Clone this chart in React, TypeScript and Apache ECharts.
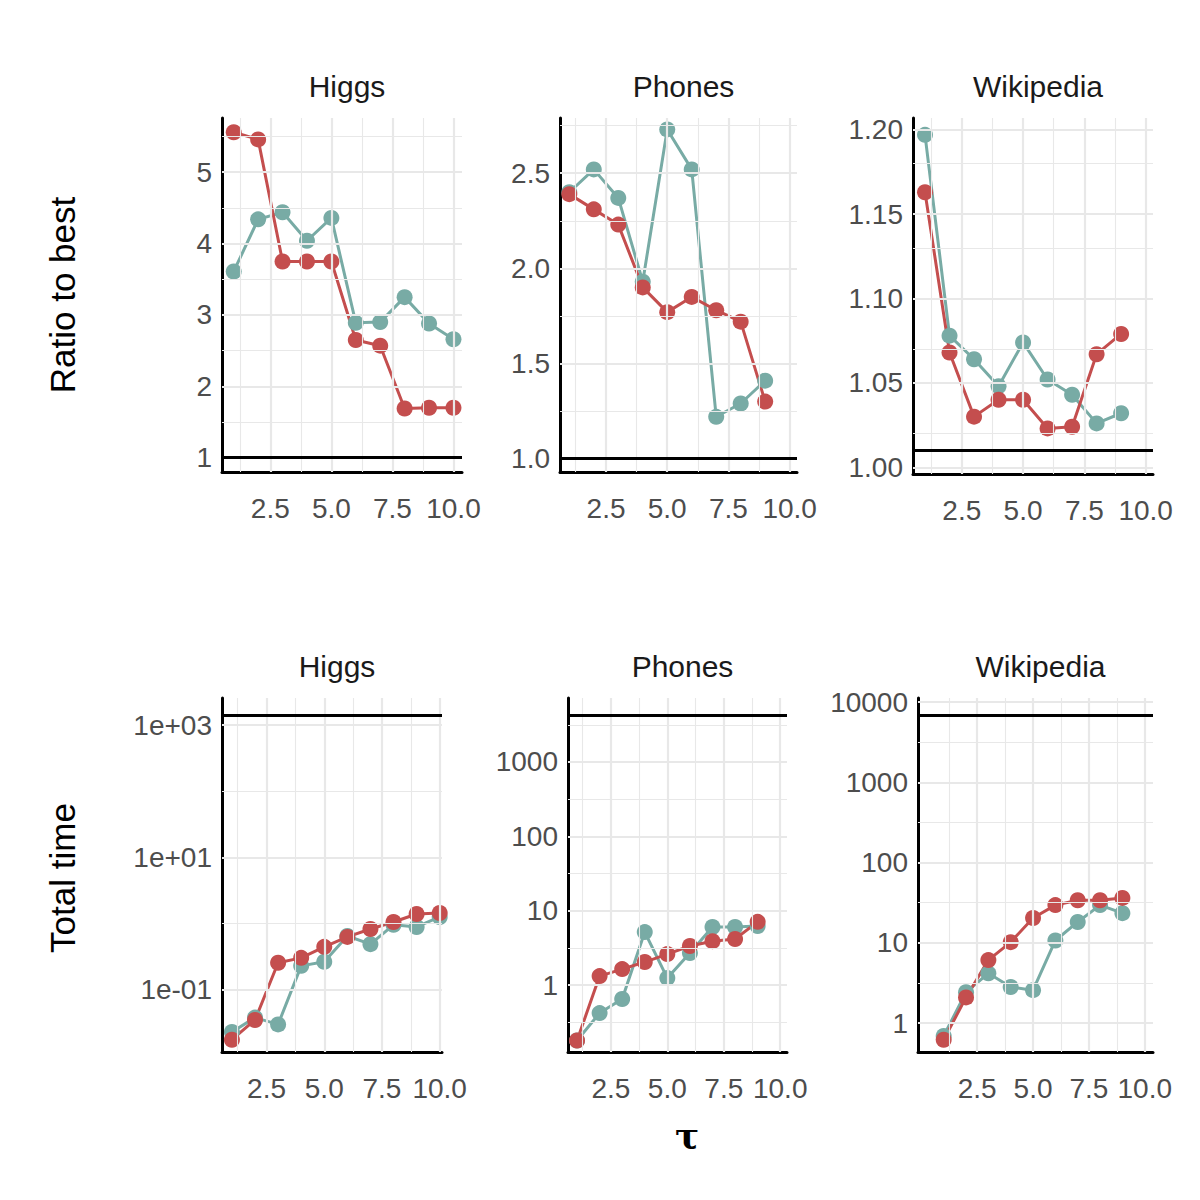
import { useEffect, useRef } from "react";
import * as echarts from "echarts";

const RED = "#c44e4e";
const TEAL = "#78aba5";
const GRID = "#e8e8e8";

const panelNames = ["Higgs", "Phones", "Wikipedia"];

// top row: ratio to best
const higgsRatioRed = [5.56, 5.46, 3.75, 3.75, 3.75, 2.65, 2.57, 1.69, 1.70, 1.70];
const higgsRatioTeal = [3.61, 4.34, 4.44, 4.04, 4.36, 2.89, 2.90, 3.25, 2.88, 2.66];
const phonesRatioRed = [2.39, 2.31, 2.23, 1.90, 1.77, 1.85, 1.78, 1.72, 1.30];
const phonesRatioTeal = [2.40, 2.52, 2.37, 1.93, 2.73, 2.52, 1.22, 1.29, 1.41];
const wikiRatioRed = [1.163, 1.068, 1.030, 1.040, 1.040, 1.023, 1.024, 1.067, 1.079];
const wikiRatioTeal = [1.197, 1.078, 1.064, 1.048, 1.074, 1.052, 1.043, 1.026, 1.032];

// bottom row: total time
const higgsTimeRed = [0.0176, 0.035, 0.256, 0.304, 0.446, 0.63, 0.83, 1.06, 1.4, 1.45];
const higgsTimeTeal = [0.023, 0.038, 0.03, 0.23, 0.265, 0.65, 0.49, 0.96, 0.89, 1.26];
const phonesTimeRed = [0.18, 1.32, 1.64, 2.04, 2.61, 3.35, 3.89, 4.17, 7.08];
const phonesTimeTeal = [0.18, 0.42, 0.65, 5.16, 1.24, 2.69, 6.03, 6.03, 6.22];
const wikiTimeRed = [0.62, 2.09, 6.1, 10.2, 20.4, 29.5, 33.9, 33.9, 36.3];
const wikiTimeTeal = [0.69, 2.43, 4.17, 2.82, 2.57, 10.7, 18.2, 29.5, 23.4];

const refLines = [1, 1, 1.006, 1400, 4300, 6900];

const xTicks = [2.5, 5, 7.5, 10];
const xMinor = [1.25, 3.75, 6.25, 8.75];

const xIdx = (n: number) => Array.from({ length: n }, (_, i) => i + 1);

interface Panel {
  grid: { left: number; top: number; width: number; height: number };
  xMin: number;
  xMax: number;
  yMin: number;
  yMax: number;
  majors: number[];
  minors: number[];
  fmt: (v: number) => string;
  red: number[];
  teal: number[];
  log: boolean;
}

const l10 = (v: number) => Math.log10(v);

const panels: Panel[] = [
  {
    grid: { left: 222, top: 118, width: 240, height: 354 },
    xMin: 0.52, xMax: 10.35, yMin: 0.8, yMax: 5.76,
    majors: [1, 2, 3, 4, 5], minors: [1.5, 2.5, 3.5, 4.5, 5.5],
    fmt: (v) => String(v), red: higgsRatioRed, teal: higgsRatioTeal, log: false,
  },
  {
    grid: { left: 560, top: 118, width: 237, height: 354 },
    xMin: 0.62, xMax: 10.3, yMin: 0.93, yMax: 2.79,
    majors: [1, 1.5, 2, 2.5], minors: [1.25, 1.75, 2.25, 2.75],
    fmt: (v) => v.toFixed(1), red: phonesRatioRed, teal: phonesRatioTeal, log: false,
  },
  {
    grid: { left: 913, top: 118, width: 240, height: 356 },
    xMin: 0.51, xMax: 10.3, yMin: 0.996, yMax: 1.207,
    majors: [1, 1.05, 1.1, 1.15, 1.2], minors: [1.025, 1.075, 1.125, 1.175],
    fmt: (v) => v.toFixed(2), red: wikiRatioRed, teal: wikiRatioTeal, log: false,
  },
  {
    grid: { left: 222, top: 698, width: 220, height: 354 },
    xMin: 0.57, xMax: 10.1, yMin: -1.94, yMax: 3.41,
    majors: [-1, 1, 3], minors: [0, 2],
    fmt: (v) => (v < 0 ? "1e-0" + -v : "1e+0" + v), red: higgsTimeRed, teal: higgsTimeTeal, log: true,
  },
  {
    grid: { left: 568, top: 698, width: 219, height: 354 },
    xMin: 0.6, xMax: 10.3, yMin: -0.9, yMax: 3.86,
    majors: [0, 1, 2, 3], minors: [-0.5, 0.5, 1.5, 2.5, 3.5],
    fmt: (v) => String(Math.round(Math.pow(10, v))), red: phonesTimeRed, teal: phonesTimeTeal, log: true,
  },
  {
    grid: { left: 918, top: 698, width: 235, height: 354 },
    xMin: -0.15, xMax: 10.37, yMin: -0.36, yMax: 4.05,
    majors: [0, 1, 2, 3, 4], minors: [0.5, 1.5, 2.5, 3.5],
    fmt: (v) => String(Math.round(Math.pow(10, v))), red: wikiTimeRed, teal: wikiTimeTeal, log: true,
  },
];

const App = () => {
  const ref = useRef<HTMLDivElement>(null);

  useEffect(() => {
    document.body.style.margin = "0";
    if (!ref.current) return;
    const chart = echarts.init(ref.current, null, { renderer: "svg" });

    const series: any[] = [];
    panels.forEach((p, i) => {
      const gridLines: any[] = [];
      xTicks.forEach((v) => v >= p.xMin && v <= p.xMax && gridLines.push({ xAxis: v, lineStyle: { width: 2.2 } }));
      xMinor.forEach((v) => gridLines.push({ xAxis: v, lineStyle: { width: 1.1 } }));
      p.majors.forEach((v) => gridLines.push({ yAxis: v, lineStyle: { width: 2.2 } }));
      p.minors.forEach((v) => v > p.yMin && v < p.yMax && gridLines.push({ yAxis: v, lineStyle: { width: 1.1 } }));
      series.push({
        type: "line", xAxisIndex: i, yAxisIndex: i, data: [], silent: true,
        markLine: {
          silent: true, symbol: "none", label: { show: false },
          lineStyle: { color: GRID, type: "solid" }, data: gridLines,
        },
      });
      const ref1 = p.log ? l10(refLines[i]) : refLines[i];
      series.push({
        type: "line", xAxisIndex: i, yAxisIndex: i, data: [], silent: true, z: 3,
        markLine: {
          silent: true, symbol: "none", label: { show: false },
          lineStyle: { color: "#000", type: "solid", width: 3 }, data: [{ yAxis: ref1 }],
        },
      });
      [
        [p.teal, TEAL],
        [p.red, RED],
      ].forEach(([vals, color]: any) => {
        series.push({
          type: "line", xAxisIndex: i, yAxisIndex: i, z: 4,
          data: (vals as number[]).map((v, k) => [xIdx(vals.length)[k], p.log ? l10(v) : v]),
          symbol: "circle", symbolSize: 16,
          lineStyle: { color, width: 3 }, itemStyle: { color },
        });
      });
    });

    const option: any = {
      animation: false,
      backgroundColor: "#fff",
      textStyle: { fontFamily: "Liberation Sans, Arial, sans-serif" },
      title: panels.map((p, i) => ({
        text: panelNames[i % 3],
        left: p.grid.left + p.grid.width / 2,
        top: p.grid.top - 52,
        textAlign: "center",
        textStyle: { fontSize: 30, fontWeight: "normal", color: "#1a1a1a", fontFamily: "Liberation Sans, Arial, sans-serif" },
      })),
      grid: panels.map((p) => p.grid),
      xAxis: panels.map((p, i) => ({
        type: "value", gridIndex: i, min: p.xMin, max: p.xMax,
        axisLine: { show: true, onZero: false, lineStyle: { color: "#000", width: 3 } },
        axisTick: { show: false },
        splitLine: { show: false },
        axisLabel: {
          customValues: xTicks, fontSize: 28, color: "#4d4d4d", margin: 22,
          formatter: (v: number) => v.toFixed(1),
        },
      })),
      yAxis: panels.map((p, i) => ({
        type: "value", gridIndex: i, min: p.yMin, max: p.yMax,
        axisLine: { show: true, onZero: false, lineStyle: { color: "#000", width: 3 } },
        axisTick: { show: false },
        splitLine: { show: false },
        axisLabel: { customValues: p.majors, fontSize: 28, color: "#4d4d4d", margin: 10, formatter: p.fmt },
      })),
      graphic: [
        { type: "text", x: 62, y: 295, rotation: Math.PI / 2, style: { text: "Ratio to best", fontSize: 35, fill: "#000", align: "center", verticalAlign: "middle", fontFamily: "Liberation Sans, Arial, sans-serif" } },
        { type: "text", x: 62, y: 878, rotation: Math.PI / 2, style: { text: "Total time", fontSize: 35, fill: "#000", align: "center", verticalAlign: "middle", fontFamily: "Liberation Sans, Arial, sans-serif" } },
        { type: "text", x: 687, y: 1135, style: { text: "τ", fontSize: 36, fontWeight: "bold", fill: "#000", align: "center", verticalAlign: "middle", fontFamily: "DejaVu Serif, serif" } },
      ],
      series,
    };
    chart.setOption(option);
    return () => chart.dispose();
  }, []);

  return <div ref={ref} style={{ width: 1200, height: 1200 }} />;
};

export default App;
